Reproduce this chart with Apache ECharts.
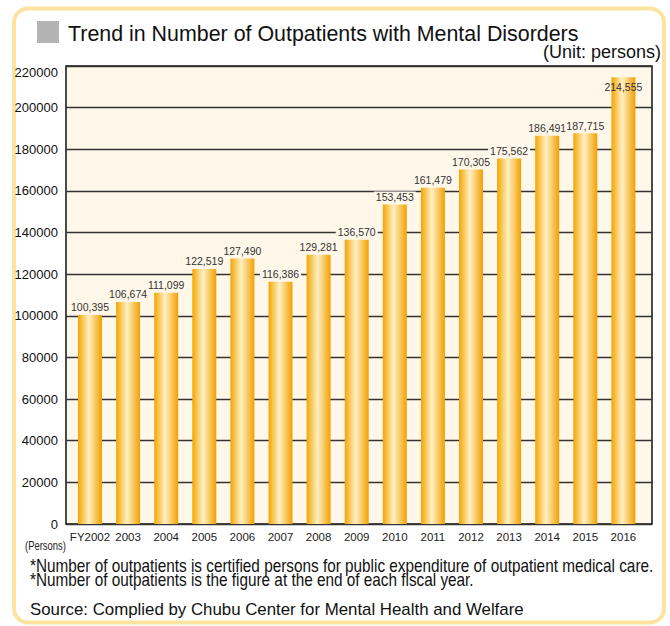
<!DOCTYPE html>
<html>
<head>
<meta charset="utf-8">
<script src="https://cdn.jsdelivr.net/npm/echarts@6/dist/echarts.min.js"></script>
<style>
html,body{margin:0;padding:0;background:#fff;}
#chart{width:670px;height:626px;}
</style>
</head>
<body>
<div id="chart"></div>
<script>
const titleText = 'Trend in Number of Outpatients with Mental Disorders';
const unitText = '(Unit: persons)';
const axisUnitText = '(Persons)';
const footnotes = [
  '*Number of outpatients is certified persons for public expenditure of outpatient medical care.',
  '*Number of outpatients is the figure at the end of each fiscal year.'
];
const sourceText = 'Source: Complied by Chubu Center for Mental Health and Welfare';
const categories = ['FY2002','2003','2004','2005','2006','2007','2008','2009','2010','2011','2012','2013','2014','2015','2016'];
const values = [100395,106674,111099,122519,127490,116386,129281,136570,153453,161479,170305,175562,186491,187715,214555];
const yMin = 0, yMax = 220000, yStep = 20000;

const PLOT_BG = '#FFF8EA';
const SANS = '"Liberation Sans",Arial,sans-serif';

// horizontal squeeze factor so that a text fits a given width (layout only)
const ctx = document.createElement('canvas').getContext('2d');
function squeeze(text, font, targetWidth){
  ctx.font = font;
  const w = ctx.measureText(text).width;
  return w > 0 ? Math.min(1, targetWidth / w) : 1;
}
const noteFont = '17.5px ' + SANS;
const noteScale = squeeze(footnotes[0], noteFont, 624);
const unitFont = '12px ' + SANS;
const unitScale = squeeze(axisUnitText, unitFont, 41);
const sourceFont = '17px ' + SANS;
const sourceScale = squeeze(sourceText, sourceFont, 494);

const chart = echarts.init(document.getElementById('chart'), null, {renderer:'svg'});

const barColor = new echarts.graphic.LinearGradient(0,0,1,0,[
  {offset:0, color:'#F4A500'},
  {offset:0.45, color:'#FFF0C4'},
  {offset:1, color:'#F2A000'}
]);

const barData = values.map((v,i)=> i === values.length-1
  ? {value:v, label:{position:'insideTop', distance:4, backgroundColor:'transparent'}}
  : v);

chart.setOption({
  animation:false,
  graphic:[
    {type:'rect', shape:{x:14,y:8.5,width:650,height:614,r:14}, style:{fill:'#fff',stroke:'#FDE3A0',lineWidth:4}, z:-10},
    {type:'rect', shape:{x:37,y:21,width:22,height:22}, style:{fill:'#B3B3B3'}},
    {type:'text', x:68, y:34, style:{text:titleText, font:'21.4px '+SANS, fill:'#111', textVerticalAlign:'middle'}},
    {type:'text', x:661, y:52, style:{text:unitText, font:'18px '+SANS, fill:'#111', textAlign:'right', textVerticalAlign:'middle'}},
    {type:'text', x:25, y:546, scaleX:unitScale, style:{text:axisUnitText, font:unitFont, fill:'#222', textVerticalAlign:'middle'}},
    {type:'text', x:30, y:566, scaleX:noteScale, style:{text:footnotes[0], font:noteFont, fill:'#111', textVerticalAlign:'middle'}},
    {type:'text', x:30, y:580, scaleX:noteScale, style:{text:footnotes[1], font:noteFont, fill:'#111', textVerticalAlign:'middle'}},
    {type:'text', x:30, y:609, scaleX:sourceScale, style:{text:sourceText, font:sourceFont, fill:'#111', textVerticalAlign:'middle'}}
  ],
  grid:[
    {left:66, top:66, width:586, height:458, show:true, backgroundColor:PLOT_BG, borderColor:'#111', borderWidth:1.5, containLabel:false},
    {left:70.95, top:66, width:571.5, height:458, containLabel:false}
  ],
  xAxis:[
    {gridIndex:0, type:'value', show:false, min:0, max:1},
    {gridIndex:1, type:'category', data:categories, boundaryGap:true,
      axisLine:{show:false}, axisTick:{show:false},
      axisLabel:{fontFamily:SANS, fontSize:11.5, color:'#222', margin:7, interval:0}}
  ],
  yAxis:[
    {gridIndex:0, type:'value', min:yMin, max:yMax, interval:yStep,
      axisLine:{show:false}, axisTick:{show:false},
      splitLine:{show:true, lineStyle:{color:'#333', width:1.4}},
      axisLabel:{fontFamily:SANS, fontSize:13, color:'#111', margin:8,
        formatter:v => v === yMax ? '{top|'+v+'}' : String(v),
        rich:{top:{fontFamily:SANS, fontSize:13, color:'#111', padding:[12,0,0,0]}}}},
    {gridIndex:1, type:'value', min:yMin, max:yMax, show:false, splitLine:{show:false}}
  ],
  series:[{
    type:'bar', xAxisIndex:1, yAxisIndex:1, data:barData, barWidth:24,
    itemStyle:{color:barColor},
    label:{show:true, position:'top', distance:2, fontFamily:SANS, fontSize:10.5, color:'#333',
      backgroundColor:PLOT_BG, padding:[0,2],
      formatter:p => p.value.toLocaleString('en-US')}
  }]
});
</script>
</body>
</html>
